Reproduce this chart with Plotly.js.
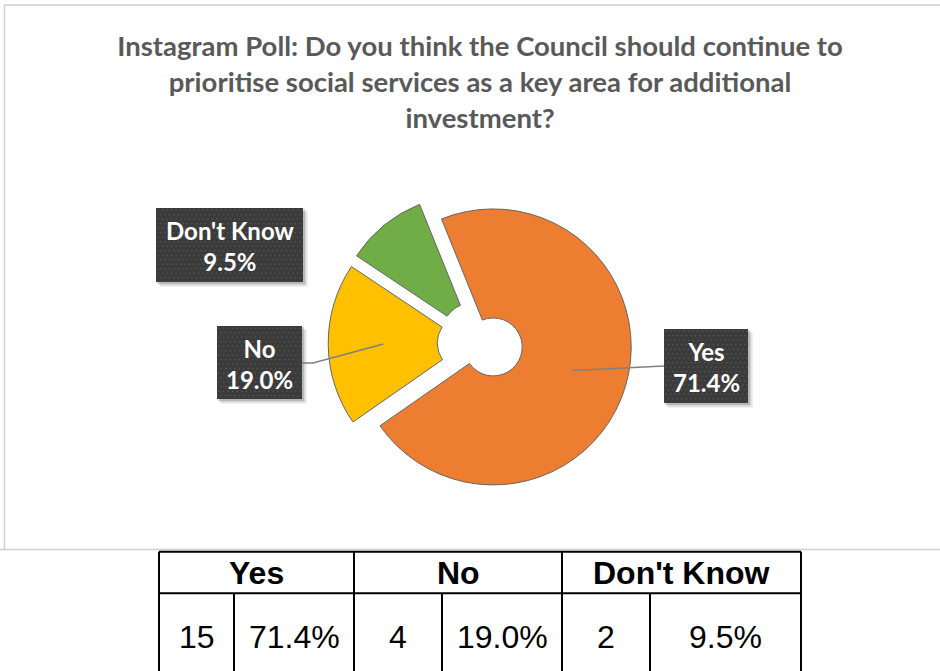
<!DOCTYPE html>
<html><head><meta charset="utf-8">
<script src="https://cdn.plot.ly/plotly-3.0.1.min.js"></script>
<style>html,body{margin:0;padding:0;background:#fff;overflow:hidden}#chart{width:940px;height:671px}</style>
</head><body><div id="chart"></div>
<script>
// ---- data ----
const categories = ["Yes", "No", "Don't Know"];
const counts = [15, 4, 2];
const percentLabels = ["71.4%", "19.0%", "9.5%"];
const sliceColors = ["#ED7D31", "#FFC000", "#70AD47"];
const titleLines = [
  "Instagram Poll: Do you think the Council should continue to",
  "prioritise social services as a key area for additional",
  "investment?"
];

// ---- geometry helpers (pixel -> paper) ----
const W = 940, H = 671;
const px = x => x / W;
const py = y => 1 - y / H;

// pie placement
const cx = 480, cy = 343, R = 138, pullFrac = 0.1, rotation = -22, holeFrac = 0.21;
const box = 2 * R * (1 + pullFrac);

// slice mid angles computed from data (compass degrees, clockwise)
const total = counts.reduce((a, b) => a + b, 0);
let cum = 0;
const midAngles = counts.map(v => { const m = rotation + 360 * (cum + v / 2) / total; cum += v; return m; });
function anchorFor(i, frac) {
  const a = midAngles[i] * Math.PI / 180;
  const dx = Math.sin(a), dy = -Math.cos(a);
  const scx = cx + pullFrac * R * dx, scy = cy + pullFrac * R * dy;
  return [scx + frac * R * dx, scy + frac * R * dy];
}

// label boxes (pixel rects) for each category
const labelBoxes = [[664, 329, 748, 403], [217, 326, 302, 399], [156, 208, 303, 282]];

const shapes = [];
const annotations = [];
const images = [];

// chart area border
const borderCol = "#cfcfcf";
shapes.push({type: "line", xref: "paper", yref: "paper", x0: px(4.5), x1: px(4.5), y0: py(5), y1: py(549.5), line: {color: borderCol, width: 1.5}});
shapes.push({type: "line", xref: "paper", yref: "paper", x0: px(4.5), x1: px(945), y0: py(5), y1: py(5), line: {color: borderCol, width: 1.5}});
shapes.push({type: "line", xref: "paper", yref: "paper", x0: px(0), x1: px(945), y0: py(549.5), y1: py(549.5), line: {color: borderCol, width: 1.5}});

// leader lines
const yesA = anchorFor(0, 0.6);
const yb = labelBoxes[0];
shapes.push({type: "path", xref: "paper", yref: "paper",
  path: `M ${px(yesA[0])} ${py(yesA[1])} L ${px(yb[0])} ${py((yb[1] + yb[3]) / 2)}`,
  line: {color: "#808080", width: 1.5}});
const noA = anchorFor(1, 0.6);
const nb = labelBoxes[1];
shapes.push({type: "path", xref: "paper", yref: "paper",
  path: `M ${px(noA[0])} ${py(noA[1])} L ${px(nb[2] + 11)} ${py(363)} L ${px(nb[2])} ${py(363)}`,
  line: {color: "#808080", width: 1.5}});

// dotted dark label box texture
function boxSvg(w, h) {
  const svg = `<svg xmlns="http://www.w3.org/2000/svg" width="${w}" height="${h}" viewBox="0 0 ${w} ${h}">` +
    `<defs><pattern id="p" width="9" height="9" patternUnits="userSpaceOnUse">` +
    `<rect x="1.5" y="1.5" width="1.3" height="1.3" fill="#575757"/>` +
    `<rect x="6" y="1.5" width="1.3" height="1.3" fill="#575757"/>` +
    `<rect x="3.75" y="6" width="1.3" height="1.3" fill="#575757"/>` +
    `<rect x="8.25" y="6" width="1.3" height="1.3" fill="#575757"/>` +
    `<rect x="-0.75" y="6" width="1.3" height="1.3" fill="#575757"/>` +
    `</pattern></defs>` +
    `<rect width="${w}" height="${h}" fill="#3b3b3b"/><rect width="${w}" height="${h}" fill="url(#p)"/></svg>`;
  return "data:image/svg+xml;charset=utf-8," + encodeURIComponent(svg);
}

// label boxes with soft shadow
labelBoxes.forEach((b, i) => {
  [[5, "rgba(0,0,0,0.06)"], [3.5, "rgba(0,0,0,0.10)"], [2, "rgba(0,0,0,0.15)"]].forEach(([o, c]) => {
    shapes.push({type: "rect", xref: "paper", yref: "paper", layer: "below",
      x0: px(b[0] + o - 1), x1: px(b[2] + o), y0: py(b[3] + o), y1: py(b[1] + o - 1),
      fillcolor: c, line: {width: 0}});
  });
  images.push({source: boxSvg(b[2] - b[0], b[3] - b[1]), xref: "paper", yref: "paper",
    x: px(b[0]), y: py(b[1]), sizex: (b[2] - b[0]) / W, sizey: (b[3] - b[1]) / H,
    xanchor: "left", yanchor: "top", sizing: "stretch", layer: "above"});
  annotations.push({xref: "paper", yref: "paper", x: px((b[0] + b[2]) / 2), y: py((b[1] + b[3]) / 2 + 1),
    xanchor: "center", yanchor: "middle", showarrow: false, align: "center",
    text: `${categories[i]}<br>${percentLabels[i]}`,
    font: {family: "Lato, 'Open Sans', sans-serif", size: 24, color: "#ffffff", weight: "bold"}});
});

// ---- summary table below chart ----
const tTop = 551.7, tMid = 593.3, tBot = 675, tL = 159, tR = 801;
const groupEdges = [159, 354, 562, 801];
const subEdges = [234, 442, 650];
const tLine = {color: "#000000", width: 2};
shapes.push({type: "line", xref: "paper", yref: "paper", x0: px(tL), x1: px(tR), y0: py(tTop), y1: py(tTop), line: tLine});
shapes.push({type: "line", xref: "paper", yref: "paper", x0: px(tL), x1: px(tR), y0: py(tMid), y1: py(tMid), line: tLine});
groupEdges.forEach(x => shapes.push({type: "line", xref: "paper", yref: "paper", x0: px(x), x1: px(x), y0: py(tTop), y1: py(tBot), line: tLine}));
subEdges.forEach(x => shapes.push({type: "line", xref: "paper", yref: "paper", x0: px(x), x1: px(x), y0: py(tMid), y1: py(tBot), line: tLine}));

const tFont = "'Liberation Sans', Arial, sans-serif";
categories.forEach((c, i) => {
  const g0 = groupEdges[i], g1 = groupEdges[i + 1], s = subEdges[i];
  annotations.push({xref: "paper", yref: "paper", x: px((g0 + g1) / 2), y: py(573), xanchor: "center", yanchor: "middle",
    showarrow: false, text: `<b>${c}</b>`, font: {family: tFont, size: 32, color: "#000"}});
  annotations.push({xref: "paper", yref: "paper", x: px((g0 + s) / 2), y: py(637), xanchor: "center", yanchor: "middle",
    showarrow: false, text: String(counts[i]), font: {family: tFont, size: 32, color: "#000"}});
  annotations.push({xref: "paper", yref: "paper", x: px((s + g1) / 2), y: py(637), xanchor: "center", yanchor: "middle",
    showarrow: false, text: percentLabels[i], font: {family: tFont, size: 32, color: "#000"}});
});

const trace = {
  type: "pie",
  labels: categories,
  values: counts,
  sort: false,
  direction: "clockwise",
  rotation: rotation,
  hole: holeFrac,
  pull: categories.map(() => pullFrac),
  marker: {colors: sliceColors, line: {color: "#666666", width: 1}},
  textinfo: "none",
  hoverinfo: "label+percent",
  showlegend: false,
  domain: {x: [px(cx - box / 2), px(cx + box / 2)], y: [py(cy + box / 2), py(cy - box / 2)]}
};

const layout = {
  width: W, height: H,
  margin: {l: 0, r: 0, t: 0, b: 0},
  paper_bgcolor: "#ffffff",
  showlegend: false,
  title: {
    text: titleLines.map(l => `<b>${l}</b>`).join("<br>"),
    font: {family: "Lato, 'Open Sans', sans-serif", size: 27.5, color: "#595959"},
    x: px(480), xanchor: "center", xref: "container",
    y: 1 - 56 / H, yanchor: "top", yref: "container"
  },
  shapes: shapes,
  annotations: annotations,
  images: images
};

Plotly.newPlot("chart", [trace], layout, {displayModeBar: false, staticPlot: true});
</script>
</body></html>
